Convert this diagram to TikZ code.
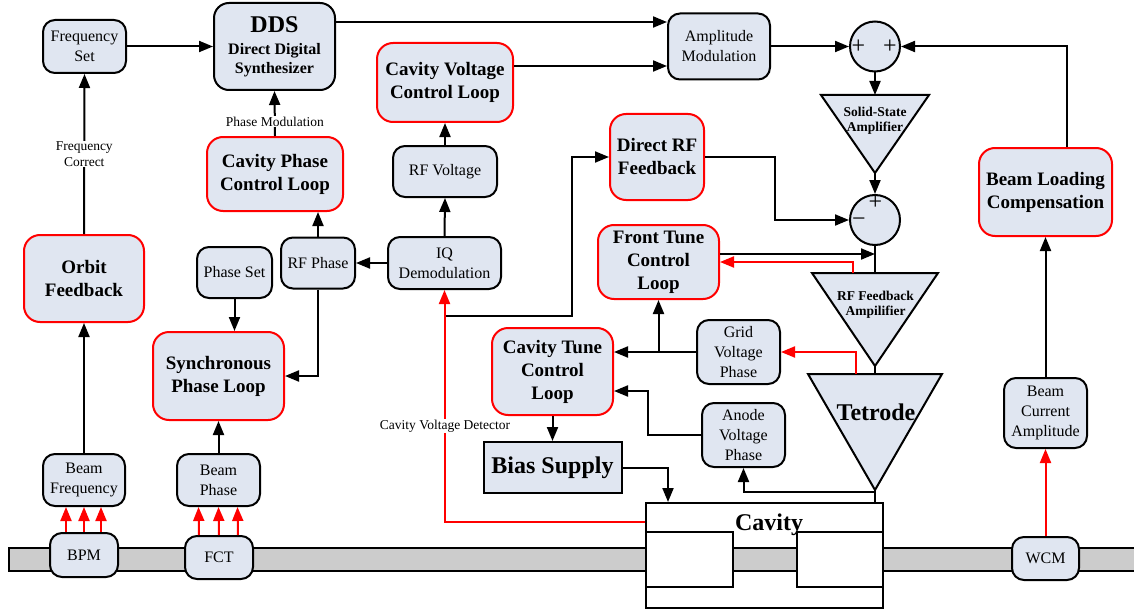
\documentclass[tikz,border=0pt]{standalone}
\usepackage{fontspec}
\setmainfont{Liberation Serif}
\usetikzlibrary{arrows.meta,calc}
\definecolor{boxfill}{RGB}{224,230,241}
\definecolor{pipegray}{RGB}{204,204,204}
\definecolor{loopred}{RGB}{255,0,0}
\begin{document}
\begin{tikzpicture}[x=1pt,y=-1pt,
  base/.style={fill=boxfill, line width=2pt, inner sep=0pt, align=center},
  sbox/.style={base, draw=black, rounded corners=12pt, font=\fontsize{16}{20}\selectfont},
  lbox/.style={base, draw=loopred, rounded corners=16pt, font=\bfseries\fontsize{19}{23}\selectfont},
  arr/.style={draw=black, line width=2pt, -{Triangle[length=14pt,width=11pt]}},
  rarr/.style={draw=loopred, line width=2pt, -{Triangle[length=14pt,width=11pt]}},
  plain/.style={draw=black, line width=2pt},
  lbl/.style={fill=white, inner sep=1pt, align=center, font=\fontsize{13.5}{15.5}\selectfont},
  tri/.style={fill=boxfill, draw=black, line width=2pt, line join=miter},
  ttext/.style={align=center, font=\bfseries\fontsize{13.5}{15.5}\selectfont},
  sign/.style={inner sep=0pt, font=\fontsize{24}{24}\selectfont},
  cavbox/.style={draw=black, fill=white, line width=2pt, inner sep=0pt},
]
\useasboundingbox (0,0) rectangle (1134,615);

% beam pipe
\draw[fill=pipegray, line width=1.5pt] (9,548) rectangle (1145,571);

% cavity
\node[cavbox, minimum width=237pt, minimum height=105pt] (cav) at (764.5,555.5) {};
\node[cavbox, minimum width=87pt, minimum height=55pt] (cavL) at (689.5,559.5) {};
\node[cavbox, minimum width=86pt, minimum height=55pt] (cavR) at (840,559.5) {};
\draw[fill=pipegray, line width=1.5pt] (733,548) rectangle (797,571);
\node[font=\bfseries\fontsize{24}{26}\selectfont, inner sep=0pt] (cavtxt) at (769,524.5) {Cavity};

% boxes
\node[sbox, minimum width=83pt, minimum height=53pt] (fset) at (84.5,46.5) {Frequency\\Set};
\node[base, draw=black, rounded corners=15pt, minimum width=121pt, minimum height=87pt,
      font=\bfseries\fontsize{16}{19}\selectfont] (dds) at (274.5,46.5)
      {{\fontsize{24}{26}\selectfont DDS}\\[3pt]Direct Digital\\Synthesizer};
\node[lbox, minimum width=136pt, minimum height=79pt] (cvcl) at (445,82.5) {Cavity Voltage\\Control Loop};
\node[sbox, minimum width=102pt, minimum height=66pt] (amp) at (719,46.5) {Amplitude\\Modulation};
\node[base, draw=black, circle, minimum size=50pt] (sum1) at (875,46.5) {};
\node[lbox, minimum width=136pt, minimum height=74pt] (cpcl) at (275,174) {Cavity Phase\\Control Loop};
\node[sbox, minimum width=104pt, minimum height=51pt] (rfv) at (445,171.5) {RF Voltage};
\node[lbox, minimum width=94pt, minimum height=86pt] (drf) at (657,157) {Direct RF\\Feedback};
\node[base, draw=black, circle, minimum size=50pt] (sum2) at (875,220) {};
\node[lbox, minimum width=133pt, minimum height=88pt] (blc) at (1045.5,192) {Beam Loading\\Compensation};
\node[lbox, minimum width=120pt, minimum height=87pt] (orbit) at (84,278.5) {Orbit\\Feedback};
\node[sbox, minimum width=75pt, minimum height=51pt] (pset) at (234.5,272.5) {Phase Set};
\node[sbox, minimum width=74pt, minimum height=51pt] (rfp) at (318,263) {RF Phase};
\node[sbox, minimum width=113pt, minimum height=52pt] (iq) at (444.5,263) {IQ\\Demodulation};
\node[lbox, minimum width=131pt, minimum height=88pt] (sync) at (218.5,376) {Synchronous\\Phase Loop};
\node[lbox, minimum width=121pt, minimum height=74pt] (ftcl) at (658.5,262) {Front Tune\\Control\\Loop};
\node[sbox, minimum width=83pt, minimum height=64pt] (gvp) at (738.5,352) {Grid\\Voltage\\Phase};
\node[lbox, minimum width=121pt, minimum height=87pt] (ctcl) at (552.5,371.5) {Cavity Tune\\Control\\Loop};
\node[sbox, minimum width=83pt, minimum height=64pt] (avp) at (743.5,435) {Anode\\Voltage\\Phase};
\node[base, draw=black, minimum width=138pt, minimum height=51pt,
      font=\bfseries\fontsize{24}{26}\selectfont] (bias) at (552.5,467.5) {Bias Supply};
\node[sbox, minimum width=83pt, minimum height=70pt] (bca) at (1045.5,413) {Beam\\Current\\Amplitude};
\node[sbox, minimum width=82pt, minimum height=52pt] (bfreq) at (84,480) {Beam\\Frequency};
\node[sbox, minimum width=83pt, minimum height=52pt] (bphase) at (218.5,480) {Beam\\Phase};
\node[sbox, minimum width=68pt, minimum height=44pt] (bpm) at (84,555) {BPM};
\node[sbox, minimum width=68pt, minimum height=43pt] (fct) at (219,557.5) {FCT};
\node[sbox, minimum width=67pt, minimum height=43pt] (wcm) at (1045.5,558.5) {WCM};

% summing signs
\node[sign] (p1) at (858.5,47) {+};
\node[sign] (p2) at (890,47) {+};
\node[sign] (p3) at (875.5,203) {+};
\node[sign] (m1) at (859,222.5) {−};

% amplifiers (triangles)
\coordinate (ssaT) at (875,95);
\coordinate (ssaA) at (875,173);
\coordinate (rffaT) at (875,273);
\coordinate (rffaA) at (875,366);
\coordinate (tetT) at (875,374);
\coordinate (tetA) at (875,490);
\filldraw[tri] (821,95) -- (929,95) -- (ssaA) -- cycle;
\filldraw[tri] (812,273) -- (938,273) -- (rffaA) -- cycle;
\filldraw[tri] (808,374) -- (942,374) -- (tetA) -- cycle;
\node[ttext] (ssatxt) at (875,121) {Solid-State\\Amplifier};
\node[ttext] (rffatxt) at (875.5,305) {RF Feedback\\Ampilifier};
\node[font=\bfseries\fontsize{24}{26}\selectfont, inner sep=0pt] (tettxt) at (876,412) {Tetrode};

% connectors
\draw[arr] (fset.east) -- (dds.west);
\draw[arr] (dds.east |- 0,22) -- (amp.west |- 0,22);
\draw[arr] (cvcl.east |- 0,66) -- (amp.west |- 0,66);
\draw[arr] (amp.east) -- (sum1.west);
\draw[arr] (blc.north -| 1067,0) |- (sum1.east);
\draw[arr] (sum1.south) -- (ssaT);
\draw[arr] (ssaA) -- (sum2.north);
\draw[plain] (sum2.south) -- (rffaT);
\draw[plain] (rffaA) -- (tetT);
\draw[arr] (cpcl.north) -- node[lbl, pos=0.32] (pml) {Phase Modulation} (dds.south);
\draw[arr] (orbit.north) -- node[lbl] (fcl) {Frequency\\Correct} (fset.south);
\draw[arr] (rfv.north) -- (cvcl.south);
\draw[arr] (iq.north) -- (rfv.south);
\draw[arr] (iq.west) -- (rfp.east);
\draw[arr] (rfp.north) -- (rfp.north |- cpcl.south);
\draw[arr] (rfp.south) |- (sync.east);
\draw[arr] (pset.south) -- (pset.south |- sync.north);
\draw[arr] (bfreq.north) -- (orbit.south);
\draw[arr] (bphase.north) -- (sync.south);
\coordinate (cvd) at (iq.south |- 0,316);
\draw[arr] (cvd) -- (572,316) |- (drf.west);
\draw[arr] (drf.east) -- (775,157) |- (sum2.west);
\coordinate (j1) at (875,254);
\draw[arr] (ftcl.east |- j1) -- (j1);
\coordinate (rffaTap) at (853,273);
\draw[rarr] (rffaTap) |- (ftcl.east);
\coordinate (tetTap) at (856,374);
\draw[rarr] (tetTap) |- (gvp.east);
\draw[arr] (gvp.west) -- (gvp.west -| ctcl.east);
\draw[arr] (gvp.west -| ftcl.south) -- (ftcl.south);
\draw[arr] (avp.west) -- (648,435) |- (ctcl.east |- 0,391);
\draw[plain] (tetA) -- (tetA |- cav.north);
\draw[arr] (tetA |- 0,492) -| (avp.south);
\draw[arr] (ctcl.south) -- (bias.north);
\draw[arr] (bias.east) -| ($(cav.north west)+(23,0)$);
\draw[arr] (bca.north) -- (blc.south);
\draw[rarr] (wcm.north) -- (bca.south);
\draw[rarr] (cav.west |- 0,522) -| (iq.south);
\foreach \dx in {-18,0,17} \draw[rarr] ([xshift=\dx pt]bpm.north) -- ([xshift=\dx pt]bfreq.south);
\foreach \dx in {-20,0,19} \draw[rarr] ([xshift=\dx pt]fct.north) -- ([xshift=\dx pt]bphase.south);
\node[lbl] (cvdl) at (445,426) {Cavity Voltage Detector};
\end{tikzpicture}
\end{document}
